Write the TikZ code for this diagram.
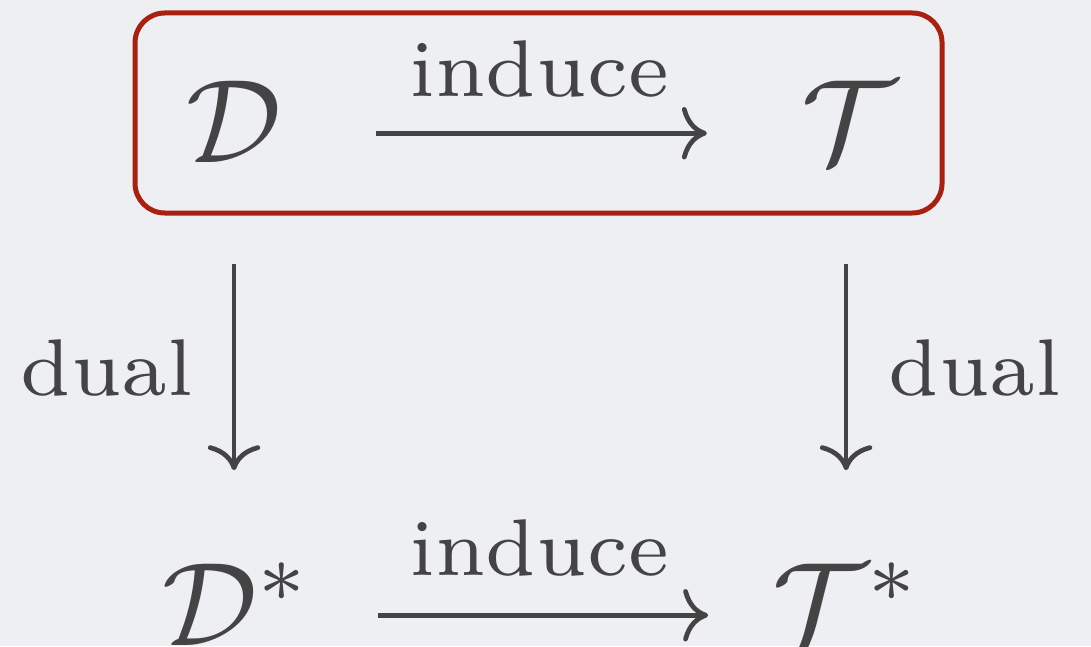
\documentclass[tikz,border=0pt]{standalone}
\usepackage{xcolor}
\usepackage{tikz}
\usetikzlibrary{arrows.meta}
\definecolor{bgray}{RGB}{238,239,243}
\definecolor{ink}{RGB}{68,68,68}
\definecolor{frame}{RGB}{170,32,16}
\begin{document}
\begin{tikzpicture}[
        x=0.08403pt, y=-0.08403pt,
        obj/.style={anchor=base, inner sep=0pt, text=ink},
        lbl/.style={anchor=base, inner sep=0pt, text=ink,
                font=\fontsize{6.76pt}{8pt}\selectfont},
        arr/.style={draw=ink, line width=0.4pt,
                -{Computer Modern Rightarrow[length=2.1pt, width=4.4pt]}}
        ]
        \fill[bgray] (0,0) rectangle (1091,646);
        \useasboundingbox (0,0) rectangle (1091,646);

        % top row
        \node[obj] (D)  at (234,163) {$\mathcal{D}$};
        \node[obj] (T)  at (849,163) {$\mathcal{T}$};
        % bottom row
        \node[obj, anchor=base west] (Ds) at (160,645) {$\mathcal{D}^*$};
        \node[obj, anchor=base west] (Ts) at (770,645) {$\mathcal{T}^*$};

        % labels
        \node[lbl] (ind1) at (539,97)  {induce};
        \node[lbl] (ind2) at (539,575) {induce};
        \node[lbl, anchor=base east] (dl) at (196,395) {dual};
        \node[lbl, anchor=base west] (dr) at (886,395) {dual};

        % frame round the top row
        \draw[frame, line width=0.42pt, rounded corners=2.5pt]
                (135,13) rectangle (942,213);

        % arrows
        \draw[arr, shorten <=7.75pt, shorten >=7.75pt]
                ([yshift=2.5pt]D.base east) -- ([yshift=2.5pt]T.base west);
        \draw[arr, shorten <=5.3pt, shorten >=5.2pt]
                ([yshift=2.5pt]Ds.base east) -- ([yshift=2.5pt]Ts.base west);
        \draw[arr, shorten <=8.3pt, shorten >=7.6pt] (D.south) -- (D.south |- Ds.north);
        \draw[arr, shorten <=8.3pt, shorten >=7.6pt]
                ([xshift=-0.25pt]T.south) -- ([xshift=-0.25pt]T.south |- Ds.north);
\end{tikzpicture}
\end{document}
